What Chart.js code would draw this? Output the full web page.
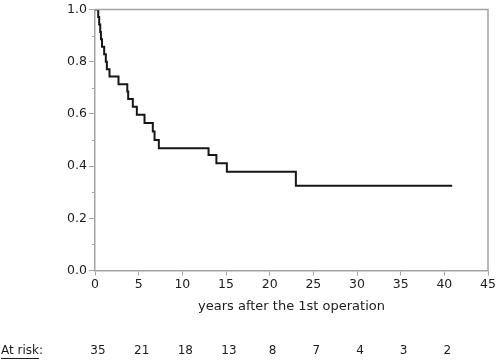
<!DOCTYPE html>
<html>
<head>
<meta charset="utf-8">
<script src="https://cdn.jsdelivr.net/npm/chart.js@4/dist/chart.umd.min.js"></script>
<style>
  html, body { margin: 0; padding: 0; background: #fff; }
  #wrap { width: 500px; height: 361px; position: relative; }
</style>
</head>
<body>
<div id="wrap"><canvas id="km"></canvas></div>
<script>
/* ===============================
   DATA
================================ */
const eventYears = [0, 0.37, 0.48, 0.6, 0.68, 0.8, 1.05, 1.24, 1.36, 1.66, 2.69, 3.7, 3.8, 4.33, 4.79, 5.67, 6.62, 6.82, 7.31, 13.0, 13.9, 15.1, 23.0, 40.9];
const survival   = [1.0, 0.971, 0.943, 0.914, 0.886, 0.857, 0.829, 0.8, 0.771, 0.743, 0.714, 0.686, 0.657, 0.627, 0.597, 0.565, 0.533, 0.5, 0.468, 0.443, 0.411, 0.378, 0.325, 0.325];

const riskYears  = [0, 5, 10, 15, 20, 25, 30, 35, 40];
const atRisk     = [35, 21, 18, 13, 8, 7, 4, 3, 2];

const xTitle = "years after the 1st operation";
const riskLabel = "At risk:";

const FONT = "DejaVu Sans";
const TEXT = "#1c1c1c";
const AXIS = "#a3a3a3";

/* ===============================
   EXTRA DRAWING (frame, minor ticks, at-risk row)
================================ */
const extras = {
  id: "extras",
  afterDraw(chart) {
    const { ctx, chartArea: a, scales: { x, y } } = chart;
    ctx.save();

    // grey frame on top and right
    ctx.strokeStyle = AXIS;
    ctx.lineWidth = 1.5;
    ctx.beginPath();
    ctx.moveTo(a.left, a.top);
    ctx.lineTo(a.right, a.top);
    ctx.lineTo(a.right, a.bottom);
    ctx.stroke();

    // minor y ticks
    ctx.lineWidth = 1;
    for (let v = 0.1; v < 1; v += 0.2) {
      const py = Math.round(y.getPixelForValue(v)) + 0.5;
      ctx.beginPath();
      ctx.moveTo(a.left - 3, py);
      ctx.lineTo(a.left, py);
      ctx.stroke();
    }

    // at-risk row
    ctx.fillStyle = TEXT;
    ctx.font = `12px "${FONT}"`;
    ctx.textBaseline = "middle";
    ctx.textAlign = "left";
    const rowY = 351;
    ctx.fillText(riskLabel, 1, rowY);
    const w = ctx.measureText("At risk").width;
    ctx.strokeStyle = TEXT;
    ctx.beginPath();
    ctx.moveTo(1, rowY + 7.5);
    ctx.lineTo(1 + w, rowY + 7.5);
    ctx.stroke();

    ctx.textAlign = "center";
    riskYears.forEach((t, i) => {
      ctx.fillText(String(atRisk[i]), x.getPixelForValue(t) + 3, rowY);
    });

    ctx.restore();
  }
};

/* ===============================
   CHART
================================ */
new Chart(document.getElementById("km"), {
  type: "line",
  data: {
    datasets: [{
      data: eventYears.map((t, i) => ({ x: t, y: survival[i] })),
      stepped: "before",
      borderColor: "#161616",
      borderWidth: 2,
      pointRadius: 0,
      fill: false
    }]
  },
  options: {
    responsive: true,
    maintainAspectRatio: false,
    animation: false,
    layout: { padding: { top: 6, right: 12, left: 0, bottom: 46 } },
    plugins: {
      legend: { display: false },
      tooltip: { enabled: false }
    },
    scales: {
      x: {
        type: "linear",
        min: 0,
        max: 45,
        ticks: { stepSize: 5, color: TEXT, font: { family: FONT, size: 12.5 }, padding: 2 },
        grid: { drawOnChartArea: false, drawTicks: true, tickLength: 5, color: AXIS },
        border: { color: AXIS, width: 1.5 },
        title: {
          display: true,
          text: xTitle,
          color: TEXT,
          font: { family: FONT, size: 13 },
          padding: { top: 0, bottom: 1 }
        },
        afterFit(scale) { scale.height = 44.5; }
      },
      y: {
        min: 0,
        max: 1,
        ticks: {
          stepSize: 0.2,
          color: TEXT,
          font: { family: FONT, size: 12.5 },
          padding: 2,
          callback: v => v.toFixed(1)
        },
        grid: { drawOnChartArea: false, drawTicks: true, tickLength: 6, color: AXIS },
        border: { color: AXIS, width: 1.5 },
        afterFit(scale) { scale.width = 95; }
      }
    }
  },
  plugins: [extras]
});
</script>
</body>
</html>
